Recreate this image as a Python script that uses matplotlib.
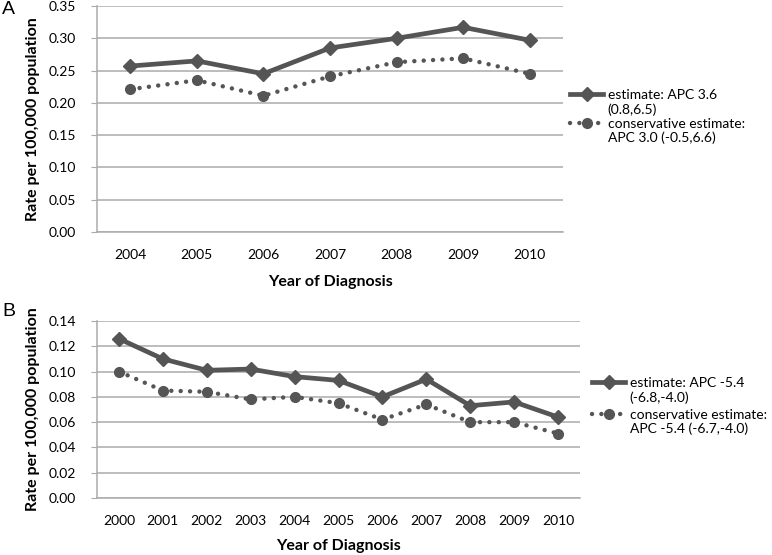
import matplotlib
matplotlib.use("Agg")
import matplotlib.pyplot as plt
from matplotlib.legend_handler import HandlerLine2D

plt.rcParams['font.family'] = ['Lato', 'DejaVu Sans']

# panel A data
years_a = ['2004', '2005', '2006', '2007', '2008', '2009', '2010']
est_a = [0.257, 0.265, 0.245, 0.285, 0.300, 0.317, 0.297]
cons_a = [0.221, 0.235, 0.211, 0.241, 0.263, 0.269, 0.245]
labels_a = ['estimate: APC 3.6\n(0.8,6.5)', 'conservative estimate:\nAPC 3.0 (-0.5,6.6)']
yticks_a = [0.00, 0.05, 0.10, 0.15, 0.20, 0.25, 0.30, 0.35]

# panel B data
years_b = ['2000', '2001', '2002', '2003', '2004', '2005', '2006', '2007', '2008', '2009', '2010']
est_b = [0.126, 0.110, 0.101, 0.102, 0.096, 0.093, 0.080, 0.094, 0.073, 0.076, 0.064]
cons_b = [0.100, 0.085, 0.084, 0.078, 0.080, 0.075, 0.062, 0.074, 0.060, 0.060, 0.051]
labels_b = ['estimate: APC -5.4\n(-6.8,-4.0)', 'conservative estimate:\nAPC -5.4 (-6.7,-4.0)']
yticks_b = [0.00, 0.02, 0.04, 0.06, 0.08, 0.10, 0.12, 0.14]

LINE = '#555555'
GRID = '#ababab'
W, H = 772, 555


class TopLineHandler(HandlerLine2D):
    # put the legend handle next to the first text line instead of the middle
    def create_artists(self, legend, orig_handle, xdescent, ydescent,
                       width, height, fontsize, trans):
        arts = super().create_artists(legend, orig_handle, xdescent, ydescent,
                                      width, height, fontsize, trans)
        for a in arts:
            a.set_ydata([y + 0.6 * fontsize for y in a.get_ydata()])
        return arts


def panel(rect, years, est, cons, yticks, labels, letter, letter_y, leg_xy, leg_sp, xlab_y):
    ax = fig.add_axes([rect[0] / W, 1 - rect[3] / H, (rect[2] - rect[0]) / W, (rect[3] - rect[1]) / H])
    x = list(range(len(years)))
    l1, = ax.plot(x, est, color=LINE, lw=3.4, marker='D', ms=7, solid_joinstyle='miter')
    l2, = ax.plot(x, cons, color=LINE, lw=3.2, ls=(0, (0.01, 2.1)), dash_capstyle='round',
                  marker='o', ms=7)
    ax.set_xlim(-0.5, len(years) - 0.5)
    ax.set_ylim(yticks[0], yticks[-1])
    ax.set_yticks(yticks)
    ax.set_yticklabels(['{:.2f}'.format(v) for v in yticks])
    ax.set_xticks(x)
    ax.set_xticklabels(years)
    ax.grid(axis='y', color=GRID, lw=1.1)
    ax.set_axisbelow(True)
    for s in ['top', 'right']:
        ax.spines[s].set_visible(False)
    for s in ['left', 'bottom']:
        ax.spines[s].set_color(GRID)
        ax.spines[s].set_linewidth(1.1)
    ax.tick_params(axis='y', length=4, color=GRID, pad=11, labelsize=10)
    ax.tick_params(axis='x', length=0, pad=12, labelsize=10)
    ax.set_ylabel('Rate per 100,000 population', fontsize=11.5, fontweight='bold', labelpad=6)
    ax.set_xlabel('Year of Diagnosis', fontsize=11.5, fontweight='bold')
    ax.xaxis.set_label_coords(0.5, (rect[3] - xlab_y) / (rect[3] - rect[1]))
    fig.text(2 / W, 1 - letter_y / H, letter, fontsize=14, family='Liberation Sans',
             va='center', ha='left')
    fig.legend([l1, l2], labels, loc='upper left',
               bbox_to_anchor=(leg_xy[0] / W, 1 - leg_xy[1] / H),
               frameon=False, fontsize=10, borderpad=0, borderaxespad=0,
               handlelength=2.4, handletextpad=0.3, labelspacing=leg_sp, numpoints=1,
               handler_map={l1: TopLineHandler(), l2: TopLineHandler()})
    return ax


fig = plt.figure(figsize=(W / 100, H / 100), dpi=100)
panel((97, 6, 563, 232), years_a, est_a, cons_a, yticks_a, labels_a, 'A', 9, (570, 89), 0.15, 275)
panel((97, 321, 580, 498), years_b, est_b, cons_b, yticks_b, labels_b, 'B', 312, (592, 377), 0.35, 539)

fig.savefig('out.png', dpi=100)
